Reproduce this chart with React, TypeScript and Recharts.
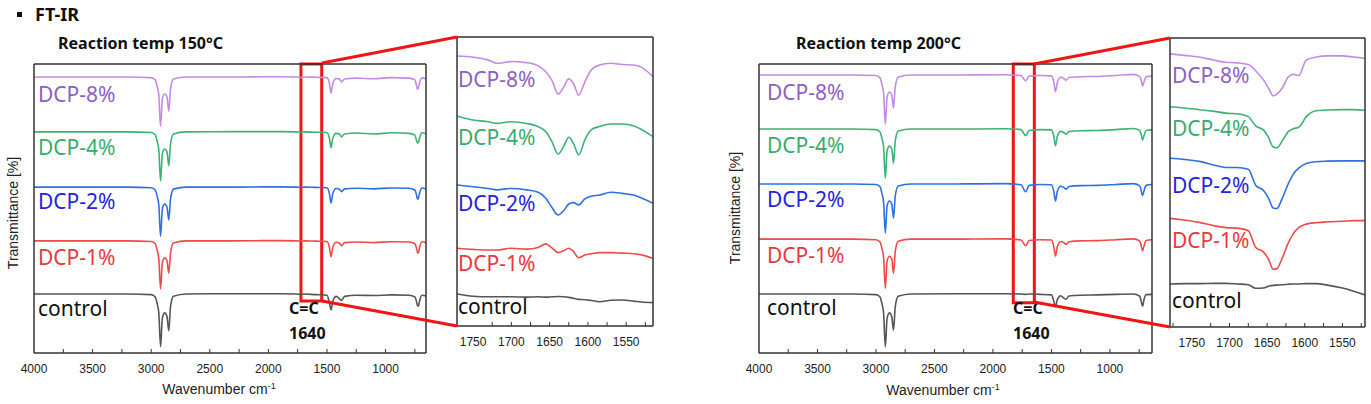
import React from "react";
import { LineChart, Line, XAxis, YAxis, ReferenceArea } from "recharts";

// wavenumbers shared by the full spectra (cm-1)
const WN_MAIN = [4000, 3200, 3000, 2965, 2950, 2935, 2920, 2905, 2885, 2865, 2850, 2835, 2810, 2700, 2300, 1900, 1760, 1720, 1690, 1600, 1500, 1480, 1465, 1450, 1420, 1395, 1375, 1350, 1250, 1100, 950, 800, 750, 735, 728, 720, 710, 690, 640];

// stacked transmittance, reaction temp 150°C
const DCP8_150 = [95.5, 95.5, 95.3, 94.5, 92.4, 89.3, 78.5, 87.9, 89.6, 88.6, 83.7, 91.3, 94.8, 95.5, 95.5, 95.6, 95.5, 95.3, 95.5, 95.4, 95.3, 93.4, 90.0, 93.4, 95.0, 94.8, 93.8, 94.8, 95.1, 94.9, 95.3, 95.1, 94.5, 92.4, 91.3, 91.7, 93.4, 95.2, 94.6];
const DCP4_150 = [76.5, 76.5, 76.3, 75.5, 73.4, 70.3, 59.5, 68.9, 70.6, 69.6, 64.8, 72.3, 75.8, 76.5, 76.6, 76.6, 76.5, 76.4, 76.5, 76.4, 76.3, 74.4, 71.1, 74.4, 76.0, 75.8, 74.8, 75.8, 76.1, 75.8, 76.2, 76.0, 75.4, 73.4, 72.7, 72.9, 74.4, 76.2, 75.6];
const DCP2_150 = [57.4, 57.4, 57.2, 56.4, 54.3, 51.2, 40.4, 49.8, 51.5, 50.5, 46.0, 53.2, 56.7, 57.4, 57.4, 57.5, 57.4, 57.3, 57.4, 57.3, 57.2, 55.3, 51.9, 55.3, 56.9, 56.7, 55.8, 56.8, 57.0, 56.8, 57.1, 57.0, 56.4, 54.5, 53.2, 53.6, 55.3, 57.1, 56.6];
const DCP1_150 = [38.8, 38.8, 38.6, 37.8, 35.7, 32.6, 22.2, 31.2, 32.9, 31.9, 27.6, 34.6, 38.1, 38.8, 38.8, 38.9, 38.8, 38.7, 38.8, 38.7, 38.6, 36.7, 33.3, 36.7, 38.3, 38.1, 37.1, 38.2, 38.4, 38.2, 38.5, 38.4, 37.8, 36.0, 34.8, 34.6, 36.5, 38.5, 38.0];
const CONTROL_150 = [20.4, 20.4, 20.2, 19.4, 17.2, 13.9, 2.2, 12.0, 13.9, 12.6, 7.7, 16.0, 19.6, 20.4, 20.5, 20.5, 20.4, 20.3, 20.4, 20.2, 20.0, 17.5, 14.9, 18.0, 19.6, 18.8, 18.2, 19.6, 20.0, 19.9, 20.1, 20.0, 19.4, 17.6, 16.4, 16.2, 18.0, 20.0, 19.6];

// stacked transmittance, reaction temp 200°C
const DCP8_200 = [96.2, 96.2, 96.0, 95.2, 93.1, 90.0, 79.2, 88.6, 90.3, 89.3, 84.8, 92.0, 95.5, 96.2, 96.2, 96.3, 96.0, 94.2, 95.8, 96.0, 95.9, 93.8, 90.4, 93.6, 95.4, 95.0, 94.4, 95.3, 95.6, 95.7, 96.0, 96.4, 95.8, 94.8, 93.4, 92.4, 93.6, 95.6, 95.8];
const DCP4_200 = [77.5, 77.5, 77.3, 76.5, 74.4, 71.3, 60.5, 69.9, 71.6, 70.6, 65.7, 73.3, 76.8, 77.5, 77.5, 77.6, 77.3, 75.2, 77.0, 77.3, 77.2, 75.1, 71.7, 74.9, 76.7, 76.3, 75.7, 76.6, 76.9, 77.0, 77.3, 77.7, 77.1, 76.0, 74.8, 73.7, 75.0, 77.0, 77.2];
const DCP2_200 = [58.5, 58.5, 58.3, 57.5, 55.4, 52.3, 41.5, 50.9, 52.6, 51.6, 46.7, 54.3, 57.8, 58.5, 58.5, 58.6, 58.2, 55.8, 58.0, 58.3, 58.2, 56.0, 52.6, 55.9, 57.7, 57.3, 56.7, 57.6, 57.9, 58.0, 58.3, 58.6, 58.0, 56.8, 55.4, 54.5, 55.9, 58.0, 58.3];
const DCP1_200 = [39.4, 39.4, 39.2, 38.4, 36.3, 33.2, 22.4, 31.8, 33.5, 32.5, 27.6, 35.2, 38.7, 39.4, 39.4, 39.5, 39.1, 37.1, 38.9, 39.2, 39.1, 36.9, 33.5, 36.8, 38.6, 38.2, 37.6, 38.5, 38.8, 38.9, 39.2, 39.5, 38.9, 37.7, 36.3, 35.4, 36.8, 38.9, 39.2];
const CONTROL_200 = [20.4, 20.4, 20.2, 19.4, 17.2, 13.9, 2.2, 12.0, 13.9, 12.6, 7.9, 16.0, 19.6, 20.4, 20.5, 20.5, 20.4, 20.3, 20.4, 20.3, 20.1, 18.0, 16.0, 18.4, 19.8, 19.0, 18.6, 19.7, 20.0, 20.1, 20.3, 20.4, 19.8, 18.4, 17.0, 16.2, 18.2, 20.2, 20.3];

// zoomed C=C region
const WN_ZOOM_150 = [1771, 1750, 1730, 1719, 1700, 1680, 1665, 1655, 1647, 1639, 1632, 1625, 1619, 1612, 1604, 1595, 1585, 1570, 1555, 1540, 1530, 1515];
const ZOOM_DCP8_150 = [93.4, 93.0, 92.0, 90.9, 91.5, 91.1, 90.0, 88.0, 85.0, 80.3, 82.5, 85.5, 84.0, 79.9, 84.5, 88.8, 90.3, 90.9, 90.5, 90.3, 89.5, 86.3];
const ZOOM_DCP4_150 = [72.7, 71.3, 70.7, 70.1, 70.7, 70.1, 69.0, 67.2, 63.8, 59.5, 62.0, 65.3, 63.2, 59.2, 64.4, 68.0, 69.0, 69.9, 69.9, 69.2, 68.0, 65.5];
const ZOOM_DCP2_150 = [48.8, 48.2, 47.6, 47.1, 47.6, 47.1, 46.3, 44.2, 41.0, 38.4, 39.8, 42.2, 42.7, 41.9, 44.0, 45.0, 45.3, 46.3, 45.9, 45.3, 44.3, 42.5];
const ZOOM_DCP1_150 = [26.9, 26.5, 26.3, 26.3, 26.9, 26.6, 27.2, 28.4, 27.0, 25.4, 26.0, 26.9, 25.8, 23.6, 24.6, 25.0, 25.4, 25.4, 25.2, 25.0, 24.6, 23.4];
const ZOOM_CONTROL_150 = [11.1, 10.3, 10.1, 10.1, 10.1, 10.0, 10.1, 10.0, 10.1, 10.2, 10.1, 9.9, 9.6, 9.2, 9.1, 8.8, 8.4, 8.9, 9.0, 8.6, 8.3, 8.1];

const WN_ZOOM_200 = [1779, 1760, 1740, 1720, 1705, 1690, 1675, 1665, 1655, 1648, 1642, 1637, 1630, 1622, 1615, 1608, 1598, 1585, 1570, 1550, 1535, 1520];
const ZOOM_DCP8_200 = [94.5, 94.0, 93.4, 92.3, 91.6, 91.4, 90.8, 88.6, 85.5, 82.6, 80.0, 80.6, 82.6, 86.5, 87.4, 87.0, 92.4, 93.4, 93.8, 93.8, 93.4, 93.0];
const ZOOM_DCP4_200 = [76.2, 75.8, 75.2, 74.6, 74.0, 73.8, 72.8, 69.5, 68.2, 65.5, 62.3, 62.0, 64.4, 67.6, 68.6, 69.1, 72.8, 74.8, 75.1, 75.2, 75.2, 75.0];
const ZOOM_DCP2_200 = [58.4, 58.0, 57.3, 56.0, 55.2, 55.2, 54.6, 49.0, 47.3, 44.5, 41.2, 41.0, 44.5, 49.5, 53.0, 55.0, 56.6, 57.2, 57.4, 57.5, 57.5, 57.5];
const ZOOM_DCP1_200 = [37.6, 37.0, 36.2, 35.0, 34.4, 34.2, 33.3, 27.5, 26.0, 23.4, 20.0, 20.2, 23.8, 29.0, 32.4, 34.4, 35.6, 36.1, 36.4, 36.6, 36.8, 36.8];
const ZOOM_CONTROL_200 = [14.9, 15.0, 15.0, 15.1, 15.1, 14.9, 14.6, 13.4, 13.5, 14.1, 14.4, 14.5, 14.6, 14.8, 14.9, 14.9, 15.0, 15.0, 14.5, 13.5, 12.4, 11.1];

// labelled ticks and the in-between minor ticks
const MAIN_TICKS = [4000, 3500, 3000, 2500, 2000, 1500, 1000];
const MAIN_MINOR = [3750, 3250, 2750, 2250, 1750, 1250, 750];
const ZOOM_TICKS = [1750, 1700, 1650, 1600, 1550];
const ZOOM_MINOR = [1775, 1725, 1675, 1625, 1575, 1525];

const SERIES = [
  { key: "p8", name: "DCP-8%", line: "#c48be6", text: "#8d5fc2" },
  { key: "p4", name: "DCP-4%", line: "#3cb273", text: "#3aaa6c" },
  { key: "p2", name: "DCP-2%", line: "#2f6fe2", text: "#2424dc" },
  { key: "p1", name: "DCP-1%", line: "#ef4a4a", text: "#e8383c" },
  { key: "c", name: "control", line: "#555555", text: "#111111" },
];

function table(wn: number[], cols: number[][]) {
  return wn.map((w, i) => {
    const row: any = { wn: w };
    SERIES.forEach((s, j) => (row[s.key] = cols[j][i]));
    return row;
  });
}

const frame = { stroke: "#333", strokeWidth: 1.5 };
const RED = "#f01414";
const TICK_GAP = 11; // tickSize + tickMargin: distance from axis line to label anchor

// inward tick mark on every tick, number only on the labelled ones
function makeTick(labelled: number[]) {
  return (p: any) => {
    const v = p.payload.value;
    const axisY = p.y - TICK_GAP;
    const major = labelled.includes(v);
    return (
      <g>
        {v !== labelled[0] && <line x1={p.x} x2={p.x} y1={axisY} y2={axisY - 4} stroke="#333" strokeWidth={1} />}
        {major && (
          <text x={p.x} y={p.y} dy="0.71em" textAnchor="middle" fill="#222" fontSize={12}
            fontFamily="Liberation Sans">{v}</text>
        )}
      </g>
    );
  };
}

// margin is the wanted plot box; the 1px frame axes are taken off it
function Spectrum(props: any) {
  const { left, width, margin, data, domain, ticks, minor, box } = props;
  const m = { top: margin.top - 1, right: margin.right - 1, bottom: margin.bottom, left: margin.left - 1 };
  const all = [...ticks, ...minor].sort((a, b) => b - a);
  return (
    <div style={{ position: "absolute", left, top: 0 }}>
      <LineChart width={width} height={404} data={data} margin={m}>
        <XAxis xAxisId="x" dataKey="wn" type="number" domain={domain} reversed allowDataOverflow
          ticks={all} interval={0} tickLine={false} tickSize={6} tickMargin={5} height={30}
          axisLine={frame} tick={makeTick(ticks)} />
        <XAxis xAxisId="top" orientation="top" type="number" domain={domain} reversed allowDataOverflow
          height={1} ticks={ticks} tick={false} tickLine={false} axisLine={frame} />
        <YAxis yAxisId="y" type="number" domain={[0, 100]} allowDataOverflow width={1}
          ticks={[0, 100]} tick={false} tickLine={false} axisLine={frame} />
        <YAxis yAxisId="r" orientation="right" type="number" domain={[0, 100]} allowDataOverflow width={1}
          ticks={[0, 100]} tick={false} tickLine={false} axisLine={frame} />
        {SERIES.map((s) => (
          <Line key={s.key} xAxisId="x" yAxisId="y" dataKey={s.key} type="monotone" stroke={s.line}
            strokeWidth={1.6} dot={false} isAnimationActive={false} />
        ))}
        {box && (
          <ReferenceArea xAxisId="x" yAxisId="y" x1={box[0]} x2={box[1]} y1={box[2]} y2={100}
            fill="none" stroke={RED} strokeWidth={3} ifOverflow="visible" />
        )}
      </LineChart>
    </div>
  );
}

function Txt({ x, y, children, style }: any) {
  return (
    <div style={{ position: "absolute", left: x, top: y, transform: "translateY(-50%)", lineHeight: 1,
      whiteSpace: "nowrap", ...style }}>{children}</div>
  );
}

function Labels({ x, ys }: { x: number; ys: number[] }) {
  return (
    <>
      {SERIES.map((s, i) => (
        <Txt key={s.key} x={x} y={ys[i]} style={{ color: s.text, fontSize: 21, fontFamily: "Noto Sans" }}>{s.name}</Txt>
      ))}
    </>
  );
}

const bold = { fontFamily: "Noto Sans", fontWeight: 700, color: "#111" };
const axisTitle = { fontFamily: "Liberation Sans", fontSize: 14, color: "#222" };

export default function App() {
  const main150 = table(WN_MAIN, [DCP8_150, DCP4_150, DCP2_150, DCP1_150, CONTROL_150]);
  const main200 = table(WN_MAIN, [DCP8_200, DCP4_200, DCP2_200, DCP1_200, CONTROL_200]);
  const zoom150 = table(WN_ZOOM_150, [ZOOM_DCP8_150, ZOOM_DCP4_150, ZOOM_DCP2_150, ZOOM_DCP1_150, ZOOM_CONTROL_150]);
  const zoom200 = table(WN_ZOOM_200, [ZOOM_DCP8_200, ZOOM_DCP4_200, ZOOM_DCP2_200, ZOOM_DCP1_200, ZOOM_CONTROL_200]);

  return (
    <div style={{ position: "absolute", left: 0, top: 0, width: 1371, height: 404, background: "#fff", overflow: "hidden" }}>
      <div style={{ position: "absolute", left: 17, top: 12, width: 5, height: 5, background: "#111" }} />
      <Txt x={35} y={14} style={{ ...bold, fontSize: 18 }}>FT-IR</Txt>

      {/* 150 °C */}
      <Txt x={58} y={43} style={{ ...bold, fontSize: 16 }}>Reaction temp 150°C</Txt>
      <Spectrum left={0} width={440} margin={{ top: 64, right: 14, bottom: 21, left: 34 }}
        data={main150} domain={[655, 4000]} ticks={MAIN_TICKS} minor={MAIN_MINOR} box={[1545, 1722, 18]} />
      <Spectrum left={440} width={230} margin={{ top: 37, right: 17, bottom: 48, left: 17 }}
        data={zoom150} domain={[1515, 1771]} ticks={ZOOM_TICKS} minor={ZOOM_MINOR.slice(1)} />
      <Labels x={38} ys={[94, 147, 201, 257, 308]} />
      <Labels x={458} ys={[79, 137, 203, 263, 306]} />
      <Txt x={289} y={308} style={{ ...bold, fontSize: 16 }}>C=C</Txt>
      <Txt x={289} y={333} style={{ ...bold, fontSize: 16 }}>1640</Txt>
      <Txt x={219} y={389} style={{ ...axisTitle, transform: "translate(-50%, -50%)" }}>Wavenumber cm<sup style={{ fontSize: 9 }}>-1</sup></Txt>
      <Txt x={13} y={213} style={{ ...axisTitle, transform: "translate(-50%, -50%) rotate(-90deg)" }}>Transmittance [%]</Txt>

      {/* 200 °C */}
      <Txt x={796} y={43} style={{ ...bold, fontSize: 16 }}>Reaction temp 200°C</Txt>
      <Spectrum left={720} width={450} margin={{ top: 64, right: 18, bottom: 21, left: 39 }}
        data={main200} domain={[640, 4000]} ticks={MAIN_TICKS} minor={MAIN_MINOR} box={[1646, 1826, 17.4]} />
      <Spectrum left={1150} width={221} margin={{ top: 38, right: 6, bottom: 47, left: 20 }}
        data={zoom200} domain={[1520, 1779]} ticks={ZOOM_TICKS} minor={ZOOM_MINOR} />
      <Labels x={767} ys={[92, 145, 199, 255, 307]} />
      <Labels x={1172} ys={[75, 128, 185, 240, 300]} />
      <Txt x={1013} y={308} style={{ ...bold, fontSize: 16 }}>C=C</Txt>
      <Txt x={1013} y={333} style={{ ...bold, fontSize: 16 }}>1640</Txt>
      <Txt x={943} y={390} style={{ ...axisTitle, transform: "translate(-50%, -50%)" }}>Wavenumber cm<sup style={{ fontSize: 9 }}>-1</sup></Txt>
      <Txt x={735} y={208} style={{ ...axisTitle, transform: "translate(-50%, -50%) rotate(-90deg)" }}>Transmittance [%]</Txt>

      {/* zoom connectors */}
      <svg width={1371} height={404} style={{ position: "absolute", left: 0, top: 0, pointerEvents: "none" }}>
        <line x1={322} y1={63} x2={457} y2={37} stroke={RED} strokeWidth={3} />
        <line x1={322} y1={301} x2={457} y2={326} stroke={RED} strokeWidth={3} />
        <line x1={1034} y1={64} x2={1170} y2={38} stroke={RED} strokeWidth={3} />
        <line x1={1034} y1={302} x2={1170} y2={327} stroke={RED} strokeWidth={3} />
      </svg>
    </div>
  );
}
